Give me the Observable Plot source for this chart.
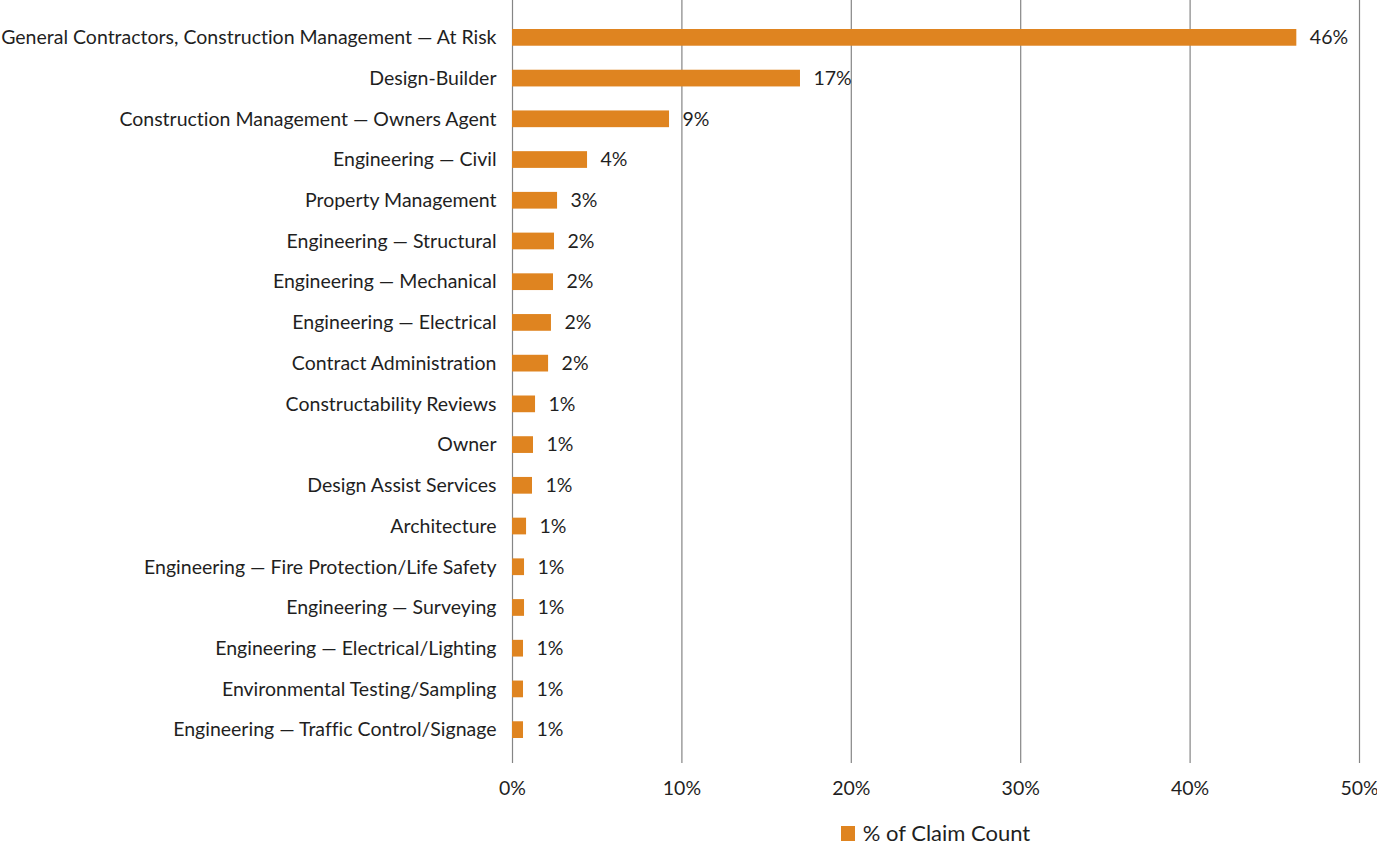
<!DOCTYPE html>
<html>
<head>
<meta charset="utf-8">
<script src="https://cdn.jsdelivr.net/npm/d3@7"></script>
<script src="https://cdn.jsdelivr.net/npm/@observablehq/plot@0.6"></script>
<style>
  html, body { margin: 0; padding: 0; background: #fff; }
  #wrap { position: relative; width: 1377px; height: 846px; font-family: Lato, sans-serif; color: #1f1f1f; font-variant-ligatures: none; }
  #chart svg, #chart svg text { font-variant-ligatures: none; }
  #legend { position: absolute; left: 512px; width: 847px; top: 819px; display: flex; justify-content: center; align-items: center; font-size: 22px; line-height: 28px; }
  #legend .sw { width: 14px; height: 15px; background: #DF8420; margin-right: 8px; }
</style>
</head>
<body>
<div id="wrap">
  <div id="chart"></div>
  <div id="legend"><span class="sw"></span><span id="legend-text"></span></div>
</div>
<script>
const categories = [
  "General Contractors, Construction Management — At Risk",
  "Design-Builder",
  "Construction Management — Owners Agent",
  "Engineering — Civil",
  "Property Management",
  "Engineering — Structural",
  "Engineering — Mechanical",
  "Engineering — Electrical",
  "Contract Administration",
  "Constructability Reviews",
  "Owner",
  "Design Assist Services",
  "Architecture",
  "Engineering — Fire Protection/Life Safety",
  "Engineering — Surveying",
  "Engineering — Electrical/Lighting",
  "Environmental Testing/Sampling",
  "Engineering — Traffic Control/Signage"
];
const values = [46.3, 17.0, 9.27, 4.43, 2.66, 2.48, 2.42, 2.30, 2.13, 1.36, 1.24, 1.18, 0.83, 0.71, 0.71, 0.65, 0.65, 0.65];
const xTicks = [0, 10, 20, 30, 40, 50];
const seriesName = "% of Claim Count";

const data = categories.map((c, i) => ({category: c, value: values[i]}));
const barColor = "#DF8420";
const textColor = "#1f1f1f";
const gridColor = "#858585";
const fs = 19.5;

const chart = Plot.plot({
  width: 1377,
  height: 805,
  marginLeft: 512,
  marginRight: 18,
  marginTop: 17,
  marginBottom: 55,
  style: {fontFamily: "Lato, sans-serif", fontSize: fs + "px", color: textColor, background: "#fff"},
  x: {domain: [0, 50], ticks: xTicks, tickFormat: d => d + "%", label: null},
  y: {domain: categories, padding: 0, round: false, label: null},
  marks: [
    Plot.ruleX(xTicks, {x: d => d, stroke: gridColor, strokeWidth: 1.2, strokeOpacity: 1, insetTop: -17, insetBottom: -13}),
    Plot.axisX({ticks: xTicks, tickFormat: d => d + "%", tickSize: 0, tickPadding: 31, fontSize: fs, label: null}),
    Plot.axisY({tickSize: 0, tickPadding: 16, fontSize: fs, label: null}),
    Plot.barX(data, {x: "value", y: "category", fill: barColor, insetTop: 12, insetBottom: 12}),
    Plot.text(data, {x: "value", y: "category", text: d => Math.round(d.value) + "%", textAnchor: "start", dx: 13, fontSize: fs, fill: textColor})
  ]
});
document.getElementById("chart").appendChild(chart);
document.getElementById("legend-text").textContent = seriesName;
</script>
</body>
</html>
